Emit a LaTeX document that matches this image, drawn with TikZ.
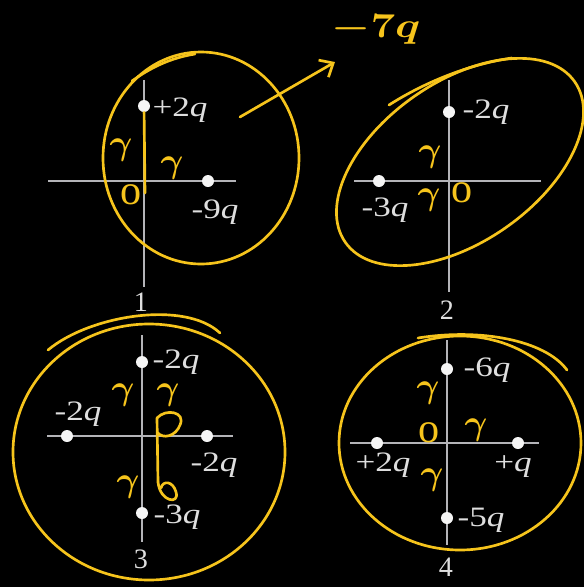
\documentclass[tikz,border=0pt]{standalone}
\usepackage{tikz}
\usepackage{xcolor}
\usepackage{fontspec}
\setmainfont{Liberation Serif}
\usetikzlibrary{positioning,arrows.meta}
\definecolor{axiscolor}{RGB}{180,180,184}
\definecolor{chargecolor}{RGB}{245,245,245}
\definecolor{labelcolor}{RGB}{222,222,222}
\definecolor{inkcolor}{RGB}{246,196,28}
\newcommand{\qtext}[1]{\scalebox{1.25}[1]{#1}}

\begin{document}
\begin{tikzpicture}[x=0.025cm,y=-0.025cm,
        axis/.style={axiscolor,line width=2.1pt},
        charge/.style={circle,fill=chargecolor,inner sep=0pt,minimum size=0.3cm},
        qlabel/.style={text=labelcolor,font=\fontsize{20}{24}\selectfont,inner sep=0pt},
        ink/.style={inkcolor,line width=1.9pt,line cap=round,line join=round},
        inkmark/.style={text=inkcolor,font=\fontsize{30}{34}\selectfont\boldmath,inner sep=0pt}]
        % Blackboard
        \useasboundingbox (0,0) rectangle (584,587);
        \fill[black] (0,0) rectangle (584,587);
        % Axes of the four panels
        \coordinate (a-l) at (48,181);  \coordinate (a-r) at (236,181);
        \coordinate (a-t) at (144,80);  \coordinate (a-b) at (144,287);
        \coordinate (b-l) at (354,181); \coordinate (b-r) at (541,181);
        \coordinate (b-t) at (449,80);  \coordinate (b-b) at (449,292);
        \coordinate (c-l) at (47,436);  \coordinate (c-r) at (233,436);
        \coordinate (c-t) at (142,335); \coordinate (c-b) at (142,542);
        \coordinate (d-l) at (350,443); \coordinate (d-r) at (539,443);
        \coordinate (d-t) at (447,340); \coordinate (d-b) at (447,545);
        \foreach \p in {a,b,c,d}
            \draw[axis] (\p-l) -- (\p-r) (\p-t) -- (\p-b);
        % Charges
        \foreach \n/\x/\y in {a1/144/106,a2/208/181,b1/449/112,b2/379/181,
                c1/142/362,c2/67/436,c3/207/436,c4/142/513,
                d1/447/369,d2/377/443,d3/518/443,d4/447/518}
            \node[charge] (\n) at (\x,\y) {};
        % Charge labels
        \node[qlabel] (a1-lbl) at (180,110) {\qtext{+2\textit{q}}};
        \node[qlabel] (a2-lbl) at (215,212) {\qtext{-9\textit{q}}};
        \node[qlabel] (b1-lbl) at (486,112) {\qtext{-2\textit{q}}};
        \node[qlabel] (b2-lbl) at (385,210) {\qtext{-3\textit{q}}};
        \node[qlabel] (c1-lbl) at (176,362) {\qtext{-2\textit{q}}};
        \node[qlabel] (c2-lbl) at (78,414) {\qtext{-2\textit{q}}};
        \node[qlabel] (c3-lbl) at (214,465) {\qtext{-2\textit{q}}};
        \node[qlabel] (c4-lbl) at (177,517) {\qtext{-3\textit{q}}};
        \node[qlabel] (d1-lbl) at (487,370) {\qtext{-6\textit{q}}};
        \node[qlabel] (d2-lbl) at (383,465) {\qtext{+2\textit{q}}};
        \node[qlabel] (d3-lbl) at (513,467) {\qtext{+\textit{q}}};
        \node[qlabel] (d4-lbl) at (481,520) {\qtext{-5\textit{q}}};
        % Panel numbers
        \node[qlabel] (n1) at (141,302) {1};
        \node[qlabel] (n2) at (447,310) {2};
        \node[qlabel] (n3) at (141,559) {3};
        \node[qlabel] (n4) at (446,567) {4};
        % Hand-drawn rings round each panel
        \draw[ink] (201,158) ellipse [x radius=98,y radius=106];
        \draw[ink] (132,81) .. controls (150,68) and (170,58) .. (195,54);
        \draw[ink,rotate around={35:(460,162)}] (460,162) ellipse [x radius=140,y radius=80];
        \draw[ink] (389,105) .. controls (425,82) and (470,64) .. (512,58);
        \draw[ink] (149,452) ellipse [x radius=136,y radius=128];
        \draw[ink] (48,350) .. controls (90,315) and (185,300) .. (220,333);
        \draw[ink] (460,443) ellipse [x radius=121,y radius=107];
        \draw[ink] (418,338) .. controls (480,328) and (545,340) .. (567,370);
        % Arrow and total charge note
        \coordinate (arr-s) at (240,117);
        \coordinate (arr-e) at (335,62);
        \draw[ink,-{Straight Barb[length=8pt,width=14pt]}] (arr-s) -- (arr-e);
        \node[inkmark,font=\fontsize{34}{38}\selectfont\boldmath] (note) at (376,30) {\qtext{$-7q$}};
        % Distance marks, panel 1
        \draw[ink] (a1) -- (145,193);
        \node[inkmark] (a-r1) at (121,150) {$\gamma$};
        \node[inkmark] (a-r2) at (172,168) {$\gamma$};
        \node[inkmark] (a-o) at (131,195) {o};
        % Distance marks, panel 2
        \node[inkmark] (b-r1) at (430,157) {$\gamma$};
        \node[inkmark] (b-r2) at (429,200) {$\gamma$};
        \node[inkmark] (b-o) at (462,193) {o};
        % Distance marks, panel 3
        \node[inkmark] (c-r1) at (123,395) {$\gamma$};
        \node[inkmark] (c-r2) at (168,395) {$\gamma$};
        \node[inkmark] (c-r3) at (128,487) {$\gamma$};
        \draw[ink] (158,482) -- (157,418) .. controls (166,408) and (186,412) .. (180,425)
            .. controls (176,436) and (163,440) .. (157,432);
        \draw[ink] (158,482) .. controls (160,502) and (180,505) .. (176,492)
            .. controls (173,481) and (163,480) .. (161,488);
        % Distance marks, panel 4
        \node[inkmark] (d-r1) at (428,393) {$\gamma$};
        \node[inkmark] (d-o) at (429,433) {o};
        \node[inkmark] (d-r2) at (476,430) {$\gamma$};
        \node[inkmark] (d-r3) at (432,480) {$\gamma$};
    \end{tikzpicture}
\end{document}
